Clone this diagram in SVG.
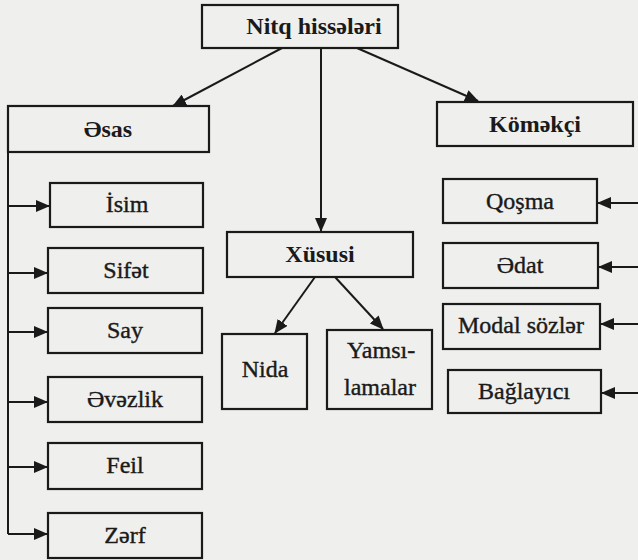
<svg xmlns="http://www.w3.org/2000/svg" width="638" height="560" viewBox="0 0 638 560">
<style>
.box{fill:none;stroke:#1a1a1a;stroke-width:2.2}
.c{fill:none;stroke:#1a1a1a;stroke-width:2}
.r{stroke:#1a1a1a;stroke-width:0.4}
</style>
<defs>
<marker id="ah" markerUnits="userSpaceOnUse" markerWidth="14" markerHeight="12" refX="13" refY="6" orient="auto">
<path d="M0,0 L14,6 L0,12 z" fill="#1a1a1a"/>
</marker>
</defs>
<rect width="638" height="560" fill="#efefed"/>
<g id="connectors">
<line class="c" x1="282" y1="48" x2="173" y2="106" marker-end="url(#ah)"/>
<line class="c" x1="321" y1="48" x2="321" y2="231" marker-end="url(#ah)"/>
<line class="c" x1="357" y1="48" x2="478" y2="101" marker-end="url(#ah)"/>
<line class="c" x1="315" y1="277" x2="275" y2="333" marker-end="url(#ah)"/>
<line class="c" x1="335" y1="277" x2="383" y2="329" marker-end="url(#ah)"/>
<path class="c" d="M8,152 V534"/>
<line class="c" x1="8" y1="206" x2="49" y2="206" marker-end="url(#ah)"/>
<line class="c" x1="8" y1="273" x2="47" y2="273" marker-end="url(#ah)"/>
<line class="c" x1="8" y1="332" x2="47" y2="332" marker-end="url(#ah)"/>
<line class="c" x1="8" y1="402" x2="47" y2="402" marker-end="url(#ah)"/>
<line class="c" x1="8" y1="467" x2="47" y2="467" marker-end="url(#ah)"/>
<line class="c" x1="8" y1="534" x2="47" y2="534" marker-end="url(#ah)"/>
<line class="c" x1="640" y1="203" x2="598" y2="203" marker-end="url(#ah)"/>
<line class="c" x1="640" y1="267" x2="599" y2="267" marker-end="url(#ah)"/>
<line class="c" x1="640" y1="324" x2="601" y2="324" marker-end="url(#ah)"/>
<line class="c" x1="640" y1="393" x2="602" y2="393" marker-end="url(#ah)"/>
</g>
<g font-family="Liberation Serif, Times New Roman, serif" font-size="24" fill="#1a1a1a" text-anchor="middle">
<g id="nitq"><rect class="box" x="202" y="5" width="196" height="43"/><text font-weight="bold" x="314" y="34">Nitq hissələri</text></g>
<g id="esas"><rect class="box" x="8" y="106" width="201" height="46"/><text font-weight="bold" x="108" y="137">Əsas</text></g>
<g id="komekci"><rect class="box" x="437" y="102" width="196" height="44"/><text font-weight="bold" x="535" y="132">Köməkçi</text></g>
<g id="xususi"><rect class="box" x="227" y="232" width="186" height="45"/><text font-weight="bold" x="320" y="262">Xüsusi</text></g>
<g id="nida"><rect class="box" x="222" y="334" width="85" height="75"/><text class="r" x="265" y="377">Nida</text></g>
<g id="yamsilamalar"><rect class="box" x="327" y="330" width="105" height="79"/><text class="r" x="381" y="358">Yamsı-</text><text class="r" x="380" y="395">lamalar</text></g>
<g id="isim"><rect class="box" x="50" y="183" width="153" height="44"/><text class="r" x="127" y="212">İsim</text></g>
<g id="sifet"><rect class="box" x="48" y="248" width="155" height="45"/><text class="r" x="126" y="278">Sifət</text></g>
<g id="say"><rect class="box" x="48" y="308" width="154" height="45"/><text class="r" x="125" y="338">Say</text></g>
<g id="evezlik"><rect class="box" x="48" y="377" width="154" height="45"/><text class="r" x="125" y="407">Əvəzlik</text></g>
<g id="feil"><rect class="box" x="48" y="443" width="154" height="46"/><text class="r" x="125" y="473">Feil</text></g>
<g id="zerf"><rect class="box" x="48" y="513" width="154" height="45"/><text class="r" x="125" y="543">Zərf</text></g>
<g id="qosma"><rect class="box" x="443" y="179" width="154" height="44"/><text class="r" x="520" y="209">Qoşma</text></g>
<g id="edat"><rect class="box" x="443" y="243" width="155" height="45"/><text class="r" x="520" y="273">Ədat</text></g>
<g id="modal"><rect class="box" x="443" y="304" width="157" height="45"/><text class="r" x="521" y="333">Modal sözlər</text></g>
<g id="baglayici"><rect class="box" x="448" y="370" width="153" height="43"/><text class="r" x="524" y="399">Bağlayıcı</text></g>
</g>
</svg>
